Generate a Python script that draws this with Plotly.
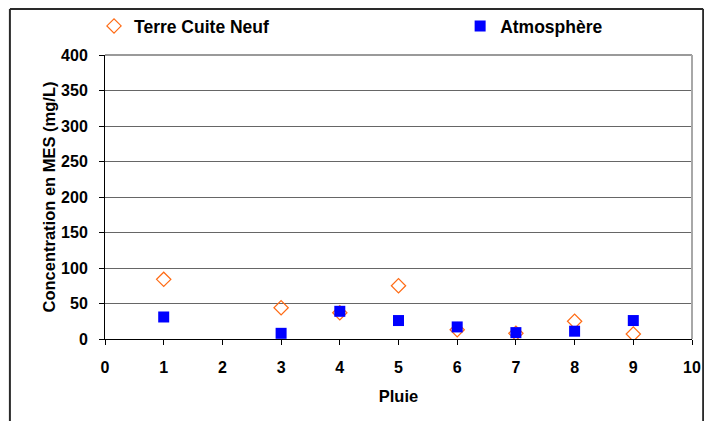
import plotly.graph_objects as go

pluie = [1, 3, 4, 5, 6, 7, 8, 9]
terre_cuite_neuf = [84, 44, 37, 75, 13, 8, 25, 7]
atmosphere = [31, 8, 39, 26, 17, 9, 11, 26]

x_ticks = list(range(0, 11))
y_ticks = list(range(0, 401, 50))

FONT = "Liberation Sans, Arial, sans-serif"

fig = go.Figure()
fig.add_trace(go.Scatter(
    x=pluie, y=terre_cuite_neuf, mode="markers", name="Terre Cuite Neuf",
    marker=dict(symbol="diamond-open", size=11, color="#FF6A13", line=dict(width=1.2, color="#FF6A13")),
    legend="legend",
))
fig.add_trace(go.Scatter(
    x=pluie, y=atmosphere, mode="markers", name="Atmosphère",
    marker=dict(symbol="square", size=11, color="#0000FF"),
    legend="legend2",
))

fig.update_layout(
    width=704, height=413,
    margin=dict(l=97, r=20, t=47, b=82, autoexpand=False),
    paper_bgcolor="white", plot_bgcolor="white",
    font=dict(family=FONT, size=16, color="black", weight="bold"),
    legend=dict(x=-0.0187, y=1.102, xanchor="left", yanchor="middle",
                font=dict(size=17.5, family=FONT, weight="bold"), bgcolor="rgba(0,0,0,0)"),
    legend2=dict(x=0.605, y=1.102, xanchor="left", yanchor="middle",
                 font=dict(size=17.5, family=FONT, weight="bold"), bgcolor="rgba(0,0,0,0)"),
    showlegend=True,
)

fig.update_xaxes(
    range=[0, 10], tickmode="array", tickvals=x_ticks, ticktext=[str(v) for v in x_ticks],
    ticks="outside", ticklen=5, tickcolor="black", showline=True, linecolor="black", linewidth=1,
    showgrid=False, zeroline=False, ticklabelstandoff=9, automargin=False,
    title=dict(text="Pluie", font=dict(size=16.5, family=FONT, weight="bold"), standoff=15),
    tickfont=dict(size=16, family=FONT, weight="bold"),
)
fig.update_yaxes(
    range=[0, 400], tickmode="array", tickvals=y_ticks, ticktext=[str(v) for v in y_ticks],
    ticks="outside", ticklen=5, tickcolor="black", showline=True, linecolor="black", linewidth=1,
    showgrid=True, gridcolor="#666666", gridwidth=1, zeroline=False, ticklabelstandoff=8, automargin=False,
    title=dict(text="Concentration en MES (mg/L)", font=dict(size=16.5, family=FONT, weight="bold"), standoff=1),
    tickfont=dict(size=16, family=FONT, weight="bold"),
)

# plot-area border (top and right, gray)
fig.add_shape(type="line", xref="paper", yref="paper", x0=0, x1=1, y0=1, y1=1,
              line=dict(color="#9a9a9a", width=2))
fig.add_shape(type="line", xref="paper", yref="paper", x0=1, x1=1, y0=0, y1=1,
              line=dict(color="#a8a8a8", width=2))
# outer chart frame
TOP = 1.162
for (x0, y0, x1, y1) in [(-0.162, TOP, 1.019, TOP), (-0.162, -0.32, -0.162, TOP), (1.019, -0.32, 1.019, TOP)]:
    fig.add_shape(type="line", xref="paper", yref="paper", x0=x0, y0=y0, x1=x1, y1=y1,
                  line=dict(color="#2a2a2a", width=2))

fig.write_html("out.html")
